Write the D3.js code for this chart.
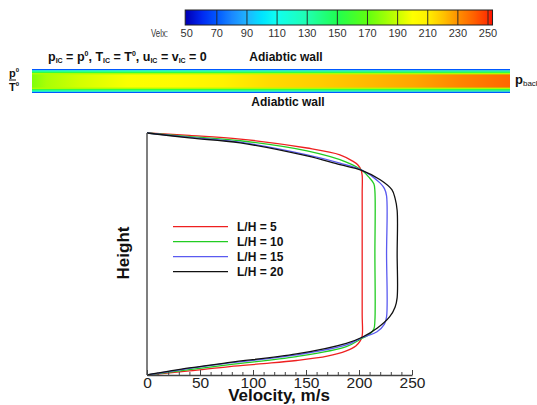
<!DOCTYPE html>
<html>
<head>
<meta charset="utf-8">
<script src="https://cdn.jsdelivr.net/npm/d3@7/dist/d3.min.js"></script>
<style>
  body { margin: 0; background: #fff; }
  text { font-family: Arial, "Liberation Sans", sans-serif; }
</style>
</head>
<body>
<svg id="chart"></svg>
<script>
// DATA /////////////////////////////////////////
// contour legend levels (m/s)
const levels = [50, 70, 90, 110, 130, 150, 170, 190, 210, 230, 250];

// channel flood: core velocity along the channel (x/L) and wall layer values
const stationX = [0, 0.03, 0.1, 0.2, 0.3, 0.4, 0.5, 0.6, 0.7, 0.8, 0.9, 1.0];
const stationU = [176, 184, 192, 199, 203, 209, 215, 218, 222, 226, 233, 239];
const wallLayers = [70, 110, 150, 185];

// velocity profiles, [u (m/s), height fraction]
const seriesNames = ["L/H = 5", "L/H = 10", "L/H = 15", "L/H = 20"];
const profileLH5 = [
  [0, 0], [40, 0.017], [78, 0.035], [110, 0.047], [141, 0.06], [170, 0.078],
  [188, 0.1], [197, 0.12], [201, 0.14], [203, 0.162], [203, 0.25], [203, 0.5],
  [203, 0.75], [203, 0.825], [202, 0.847], [199, 0.868], [194, 0.884],
  [182, 0.91], [151, 0.938], [88, 0.975], [40, 0.99], [0, 1]
];
const profileLH10 = [
  [0, 0], [40, 0.022], [78, 0.043], [141, 0.076], [188, 0.117], [203, 0.152],
  [210, 0.168], [214, 0.19], [215, 0.225], [215, 0.5], [215, 0.76],
  [214, 0.79], [210, 0.814], [203, 0.845], [188, 0.88], [151, 0.926],
  [88, 0.968], [40, 0.985], [0, 1]
];
const profileLH15 = [
  [0, 0], [40, 0.027], [78, 0.05], [141, 0.083], [188, 0.124], [203, 0.155],
  [217, 0.179], [224, 0.21], [226, 0.24], [226, 0.5], [226, 0.74],
  [224, 0.77], [220, 0.793], [203, 0.846], [182, 0.876], [151, 0.91],
  [88, 0.962], [40, 0.982], [0, 1]
];
const profileLH20 = [
  [0, 0], [40, 0.029], [78, 0.052], [141, 0.087], [188, 0.131], [203, 0.156],
  [217, 0.193], [229, 0.241], [234, 0.28], [236, 0.32], [236, 0.5],
  [236, 0.68], [234, 0.731], [231, 0.766], [220, 0.807], [202, 0.847],
  [182, 0.869], [151, 0.905], [88, 0.959], [40, 0.98], [0, 1]
];
const profiles = [profileLH5, profileLH10, profileLH15, profileLH20];
const lineColors = ["#ee2020", "#22cc22", "#5a5af0", "#111111"];

const xTicks = [0, 50, 100, 150, 200, 250];

// SETUP ////////////////////////////////////////
const W = 537, H = 405;
const svg = d3.select("#chart").attr("width", W).attr("height", H);
svg.append("rect").attr("width", W).attr("height", H).attr("fill", "#fff");
const defs = svg.append("defs");

// rainbow map used by both the legend bar and the channel flood
const velColor = d3.scaleLinear()
  .domain([50, 60, 70, 80, 90, 100, 110, 130, 150, 170, 190, 200, 210, 220, 230, 240, 250, 254])
  .range(["#0000b8", "#0028f0", "#0058ff", "#1a88ff", "#20b4ff", "#00e4ff", "#10fff0",
          "#20ffb0", "#20ff50", "#60ff10", "#c8ff00", "#ffff00", "#fff000", "#ffc400",
          "#ff9000", "#ff6400", "#ff3000", "#ff0000"])
  .clamp(true);

// COLOUR LEGEND ////////////////////////////////
const barX = d3.scaleLinear().domain([50, 250]).range([186.7, 488]);
const barLo = 49, barHi = 253;
const barGrad = defs.append("linearGradient").attr("id", "barGrad");
d3.range(barLo, barHi + 0.01, 1).forEach((v) => {
  barGrad.append("stop")
    .attr("offset", (v - barLo) / (barHi - barLo))
    .attr("stop-color", velColor(v));
});
const barG = svg.append("g");
barG.append("rect")
  .attr("x", barX(barLo)).attr("y", 10)
  .attr("width", barX(barHi) - barX(barLo)).attr("height", 15)
  .attr("fill", "url(#barGrad)");
barG.selectAll(".div")
  .data(levels.slice(1))
  .enter().append("line")
  .attr("x1", (d) => barX(d)).attr("x2", (d) => barX(d))
  .attr("y1", 10).attr("y2", 25)
  .attr("stroke", "#222").attr("stroke-width", 0.9);
barG.append("rect")
  .attr("x", barX(barLo)).attr("y", 10)
  .attr("width", barX(barHi) - barX(barLo)).attr("height", 15)
  .attr("fill", "none").attr("stroke", "#222").attr("stroke-width", 1);
barG.selectAll(".lvl")
  .data(levels)
  .enter().append("text")
  .attr("x", (d) => barX(d)).attr("y", 37)
  .attr("text-anchor", "middle")
  .attr("font-size", 11).attr("fill", "#333")
  .text((d) => d);
barG.append("text")
  .attr("x", 151).attr("y", 37)
  .attr("font-size", 10).attr("fill", "#333")
  .attr("textLength", 17).attr("lengthAdjust", "spacingAndGlyphs")
  .text("Velx:");

// CHANNEL FLOOD ////////////////////////////////
const chX = d3.scaleLinear().domain([0, 1]).range([32, 510]);
const chTop = 69, chBot = 93, layerH = 1.3;
const chGrad = defs.append("linearGradient").attr("id", "chGrad");
stationX.forEach((s, i) => {
  chGrad.append("stop").attr("offset", s).attr("stop-color", velColor(stationU[i]));
});
svg.append("rect")
  .attr("x", chX(0)).attr("y", chTop)
  .attr("width", chX(1) - chX(0)).attr("height", chBot - chTop)
  .attr("fill", "url(#chGrad)");
// thin wall layers top and bottom
wallLayers.forEach((v, i) => {
  svg.append("rect")
    .attr("x", chX(0)).attr("y", chTop + i * layerH)
    .attr("width", chX(1) - chX(0)).attr("height", layerH + 0.2)
    .attr("fill", velColor(v));
  svg.append("rect")
    .attr("x", chX(0)).attr("y", chBot - (i + 1) * layerH - 0.2)
    .attr("width", chX(1) - chX(0)).attr("height", layerH + 0.2)
    .attr("fill", velColor(v));
});

// channel annotations
const bold = (sel) => sel.attr("font-weight", "bold").attr("fill", "#111");
bold(svg.append("text").attr("x", 286).attr("y", 61).attr("text-anchor", "middle").attr("font-size", 12))
  .text("Adiabtic  wall");
bold(svg.append("text").attr("x", 288).attr("y", 106).attr("text-anchor", "middle").attr("font-size", 12))
  .text("Adiabtic  wall");

const ic = bold(svg.append("text").attr("x", 48).attr("y", 61).attr("font-size", 12.5));
const icParts = [
  ["p", 0], ["IC", 1], [" = p", 0], ["0", -1], [",  T", 0], ["IC", 1], [" = T", 0], ["0", -1],
  [",  u", 0], ["IC", 1], [" = v", 0], ["IC", 1], [" = 0", 0]
];
icParts.forEach(([t, s], i) => {
  const prev = i > 0 ? icParts[i - 1][1] : 0;
  const ts = ic.append("tspan").text(t);
  if (s === 1) ts.attr("font-size", 7).attr("dy", 2);
  if (s === -1) ts.attr("font-size", 7).attr("dy", -5);
  // back to the main baseline after a shifted run
  if (s === 0 && prev === 1) ts.attr("dy", -2);
  if (s === 0 && prev === -1) ts.attr("dy", 5);
});

// inlet and outlet conditions
const inlet = bold(svg.append("text").attr("x", 9).attr("y", 77).attr("font-size", 11));
inlet.append("tspan").text("p");
inlet.append("tspan").attr("font-size", 6).attr("dy", -5).text("0");
svg.append("line").attr("x1", 9).attr("x2", 16).attr("y1", 80).attr("y2", 80)
  .attr("stroke", "#111").attr("stroke-width", 1);
const inletT = bold(svg.append("text").attr("x", 9).attr("y", 91).attr("font-size", 11));
inletT.append("tspan").text("T");
inletT.append("tspan").attr("font-size", 6).attr("dy", -5).text("0");

const outlet = bold(svg.append("text").attr("x", 515).attr("y", 84).attr("font-size", 13));
outlet.append("tspan").text("p");
outlet.append("tspan").attr("font-size", 8).attr("dy", 2).attr("font-weight", "normal").text("back");

// VELOCITY PROFILE PLOT ////////////////////////
const x = d3.scaleLinear().domain([0, 250]).range([147, 412]);
const y = d3.scaleLinear().domain([0, 1]).range([375, 133]);

const plotG = svg.append("g");

const line = d3.line()
  .x((d) => x(d[0]))
  .y((d) => y(d[1]))
  .curve(d3.curveCatmullRom.alpha(0.5));

plotG.selectAll(".profile")
  .data(profiles)
  .enter().append("path")
  .attr("class", "profile")
  .attr("d", line)
  .attr("fill", "none")
  .attr("stroke", (d, i) => lineColors[i])
  .attr("stroke-width", 1.3);

// left edge (height axis, no ticks)
plotG.append("line")
  .attr("x1", x(0)).attr("x2", x(0))
  .attr("y1", y(0)).attr("y2", y(1))
  .attr("stroke", "#555").attr("stroke-width", 1.5);

// bottom axis with inward major and minor ticks
const minorAxis = d3.axisBottom(x)
  .tickValues(d3.range(0, 251, 10))
  .tickSize(-3).tickFormat("");
plotG.append("g")
  .attr("transform", `translate(0, ${y(0)})`)
  .call(minorAxis)
  .call((g) => g.select(".domain").remove())
  .call((g) => g.selectAll("line").attr("stroke", "#444"));

const xAxis = d3.axisBottom(x)
  .tickValues(xTicks)
  .tickSizeInner(-5).tickSizeOuter(0)
  .tickPadding(2);
plotG.append("g")
  .attr("transform", `translate(0, ${y(0)})`)
  .call(xAxis)
  .call((g) => g.select(".domain").attr("stroke", "#444").attr("stroke-width", 1.5))
  .call((g) => g.selectAll(".tick line").attr("stroke", "#444"))
  .call((g) => g.selectAll("text")
    .attr("font-size", 15.5).attr("fill", "#222")
    .attr("font-family", "Arial, 'Liberation Sans', sans-serif"));

plotG.append("text")
  .attr("x", 279).attr("y", 401)
  .attr("text-anchor", "middle")
  .attr("font-size", 17).attr("font-weight", "bold").attr("fill", "#111")
  .text("Velocity, m/s");

plotG.append("text")
  .attr("transform", "translate(129, 253) rotate(-90)")
  .attr("text-anchor", "middle")
  .attr("font-size", 17).attr("font-weight", "bold").attr("fill", "#111")
  .text("Height");

// legend
const legG = plotG.selectAll(".leg")
  .data(seriesNames)
  .enter().append("g")
  .attr("transform", (d, i) => `translate(0, ${226.7 + i * 15})`);
legG.append("line")
  .attr("x1", 173).attr("x2", 228)
  .attr("stroke", (d, i) => lineColors[i]).attr("stroke-width", 1.3);
legG.append("text")
  .attr("x", 237).attr("y", 4.5)
  .attr("font-size", 12).attr("font-weight", "bold").attr("fill", "#111")
  .text((d) => d);
</script>
</body>
</html>
